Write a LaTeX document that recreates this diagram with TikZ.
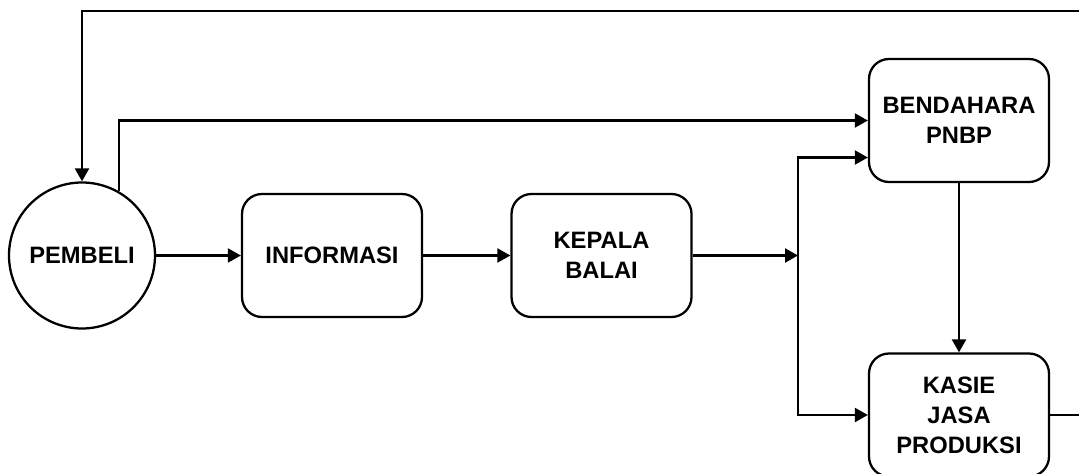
\documentclass[tikz,border=0pt]{standalone}
\usepackage{fontspec}
\setmainfont{Liberation Sans}
\usepackage{tikz}
\usetikzlibrary{arrows.meta,positioning,shapes}

\tikzset{
	box/.style={draw, line width=1.3pt, rounded corners=0.4cm, minimum width=3.6cm, minimum height=2.46cm, align=center, font=\bfseries\fontsize{13.5}{17}\selectfont},
	orang/.style={draw, circle, line width=1.3pt, minimum size=2.92cm, inner sep=0pt, font=\bfseries\fontsize{13.5}{17}\selectfont},
	alur/.style={line width=1.3pt, -{Triangle[length=2.6mm,width=2.8mm]}},
	garis/.style={line width=1.3pt}
}

\begin{document}
\begin{tikzpicture}
				\useasboundingbox (0,0) rectangle (21.58,9.46);
				
				\node [orang] (pembeli) at (1.64,4.35) {PEMBELI};
				\node [box] (informasi) at (6.64,4.35) {INFORMASI};
				\node [box] (kepala) at (12.03,4.35) {KEPALA\\BALAI};
				\node [box] (bendahara) at (19.18,7.05) {BENDAHARA\\PNBP};
				\node [box] (kasie) at (19.18,1.16) {KASIE\\JASA\\PRODUKSI};
				
				\coordinate (cabang) at (15.96,4.35);
				\coordinate (balik) at (21.8,9.24);
				
				\draw [alur] (pembeli) -- (informasi);
				\draw [alur] (informasi) -- (kepala);
				\draw [alur] (kepala) -- (cabang);
				
				\draw [alur] (cabang) |- ([yshift=-0.74cm]bendahara.west);
				\draw [alur] (cabang) |- (kasie.west);
				\draw [alur] (bendahara) -- (kasie);
				
				\draw [alur] (pembeli.60) |- (bendahara.west);
				
				% % % % % % % % % % % % % % % % % % % % % % % % % %
				
				\draw [alur] (kasie.east) -| (balik) -| (pembeli.north);
\end{tikzpicture}
\end{document}
